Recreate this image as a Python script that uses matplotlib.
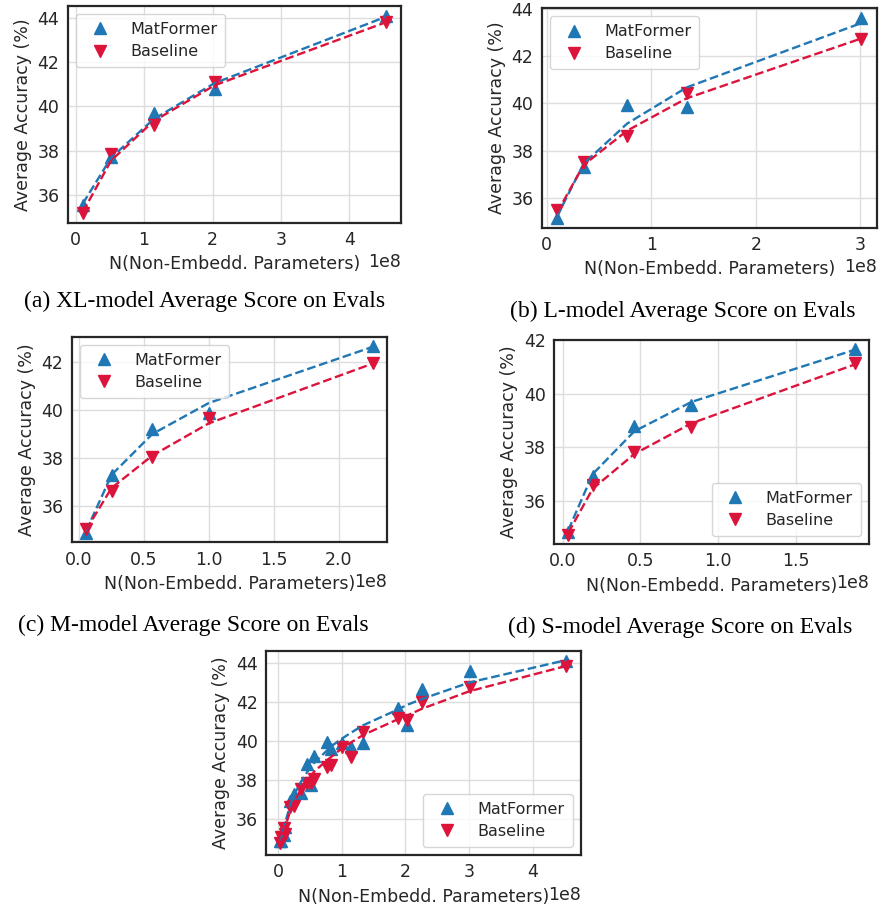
import matplotlib
matplotlib.use("Agg")
import matplotlib.pyplot as plt
from matplotlib.ticker import MultipleLocator

# ---------------- data (x = number of non-embedding parameters) ----------------
xl_x = [0.106e8, 0.52e8, 1.14e8, 2.03e8, 4.53e8]
xl_mat = [35.55, 37.72, 39.69, 40.80, 44.09]
xl_base = [35.18, 37.85, 39.16, 41.08, 43.82]
xl_mat_fit = [35.60, 37.68, 39.42, 41.05, 44.05]
xl_base_fit = [35.22, 37.55, 39.33, 40.95, 43.80]

l_x = [0.099e8, 0.354e8, 0.77e8, 1.34e8, 3.01e8]
l_mat = [35.17, 37.31, 39.95, 39.87, 43.60]
l_base = [35.50, 37.52, 38.64, 40.44, 42.74]
l_mat_fit = [35.22, 37.45, 39.15, 40.68, 43.40]
l_base_fit = [35.38, 37.40, 38.85, 40.22, 42.75]

m_x = [0.054e8, 0.251e8, 0.564e8, 1.00e8, 2.264e8]
m_mat = [34.87, 37.27, 39.22, 39.90, 42.68]
m_base = [35.05, 36.62, 38.04, 39.66, 41.98]
m_mat_fit = [34.95, 37.30, 39.00, 40.30, 42.65]
m_base_fit = [35.00, 36.75, 38.10, 39.45, 41.95]

s_x = [0.036e8, 0.193e8, 0.461e8, 0.829e8, 1.879e8]
s_mat = [34.82, 36.91, 38.79, 39.58, 41.67]
s_base = [34.73, 36.60, 37.84, 38.76, 41.15]
s_mat_fit = [34.90, 37.00, 38.60, 39.70, 41.65]
s_base_fit = [34.80, 36.45, 37.75, 38.90, 41.10]

all_x_fit = [0.036e8, 0.054e8, 0.099e8, 0.106e8, 0.193e8, 0.251e8, 0.354e8, 0.461e8,
             0.52e8, 0.564e8, 0.77e8, 0.829e8, 1.00e8, 1.14e8, 1.34e8, 1.879e8,
             2.03e8, 2.264e8, 3.01e8, 4.53e8]
all_mat_fit = [34.70, 35.00, 35.60, 35.70, 36.70, 37.20, 37.85, 38.40, 38.65, 38.85,
               39.50, 39.70, 40.10, 40.40, 40.80, 41.60, 41.85, 42.15, 43.00, 44.15]
all_base_fit = [34.60, 34.85, 35.40, 35.50, 36.40, 36.85, 37.45, 37.95, 38.20, 38.40,
                39.00, 39.15, 39.60, 39.90, 40.30, 41.10, 41.30, 41.65, 42.55, 43.85]

captions = ["(a) XL-model Average Score on Evals", "(b) L-model Average Score on Evals",
            "(c) M-model Average Score on Evals", "(d) S-model Average Score on Evals"]

BLUE = "#1f77b4"
RED = "#dc143c"
FS = 12.5

plt.rcParams.update({
    "font.family": "DejaVu Sans",
    "font.size": FS,
    "axes.edgecolor": "#262626",
    "axes.linewidth": 1.6,
    "xtick.color": "#262626",
    "ytick.color": "#262626",
    "axes.labelcolor": "#262626",
    "text.color": "#262626",
})

fig = plt.figure(figsize=(8.81, 9.05), dpi=100)

positions = [
    [0.0768, 0.7539, 0.3783, 0.2394],
    [0.6149, 0.7484, 0.3802, 0.2424],
    [0.0814, 0.4008, 0.3582, 0.2272],
    [0.6288, 0.3989, 0.3575, 0.2254],
    [0.3019, 0.0552, 0.3572, 0.2257],
]

def setup(ax):
    ax.grid(True, color="#dddddd", linewidth=1.0)
    ax.set_axisbelow(True)
    ax.yaxis.set_major_locator(MultipleLocator(2))
    ax.tick_params(length=0, labelsize=FS, pad=6)
    ax.set_xlabel("N(Non-Embedd. Parameters)", fontsize=FS, labelpad=4.5)
    ax.set_ylabel("Average Accuracy (%)", fontsize=FS, labelpad=4)
    ax.xaxis.get_offset_text().set_fontsize(FS)

panels = [
    (xl_x, xl_mat, xl_base, xl_x, xl_mat_fit, xl_base_fit, "upper left"),
    (l_x, l_mat, l_base, l_x, l_mat_fit, l_base_fit, "upper left"),
    (m_x, m_mat, m_base, m_x, m_mat_fit, m_base_fit, "upper left"),
    (s_x, s_mat, s_base, s_x, s_mat_fit, s_base_fit, "lower right"),
    (xl_x + l_x + m_x + s_x, xl_mat + l_mat + m_mat + s_mat,
     xl_base + l_base + m_base + s_base, all_x_fit, all_mat_fit, all_base_fit, "lower right"),
]

for pos, (x, ym, yb, xf, fm, fb, loc) in zip(positions, panels):
    ax = fig.add_axes(pos)
    ax.plot(x, ym, linestyle="none", marker="^", markersize=8.5, color=BLUE, label="MatFormer", zorder=3)
    ax.plot(x, yb, linestyle="none", marker="v", markersize=8.5, color=RED, label="Baseline", zorder=3)
    ax.plot(xf, fm, linestyle="--", color=BLUE, linewidth=1.7, zorder=4)
    ax.plot(xf, fb, linestyle="--", color=RED, linewidth=1.7, zorder=4)
    setup(ax)
    ax.legend(loc=loc, fontsize=11.5, handletextpad=0.9, borderpad=0.5,
              labelspacing=0.45, edgecolor="#cccccc", framealpha=0.8, numpoints=1)

cap_pos = [(205, 301), (683, 311), (193, 625), (680, 627)]
for (cx, cy), txt in zip(cap_pos, captions):
    fig.text(cx / 881, 1 - cy / 905, txt, ha="center", va="center",
             family="Liberation Serif", fontsize=17, color="black")

fig.savefig("out.png", dpi=100)
